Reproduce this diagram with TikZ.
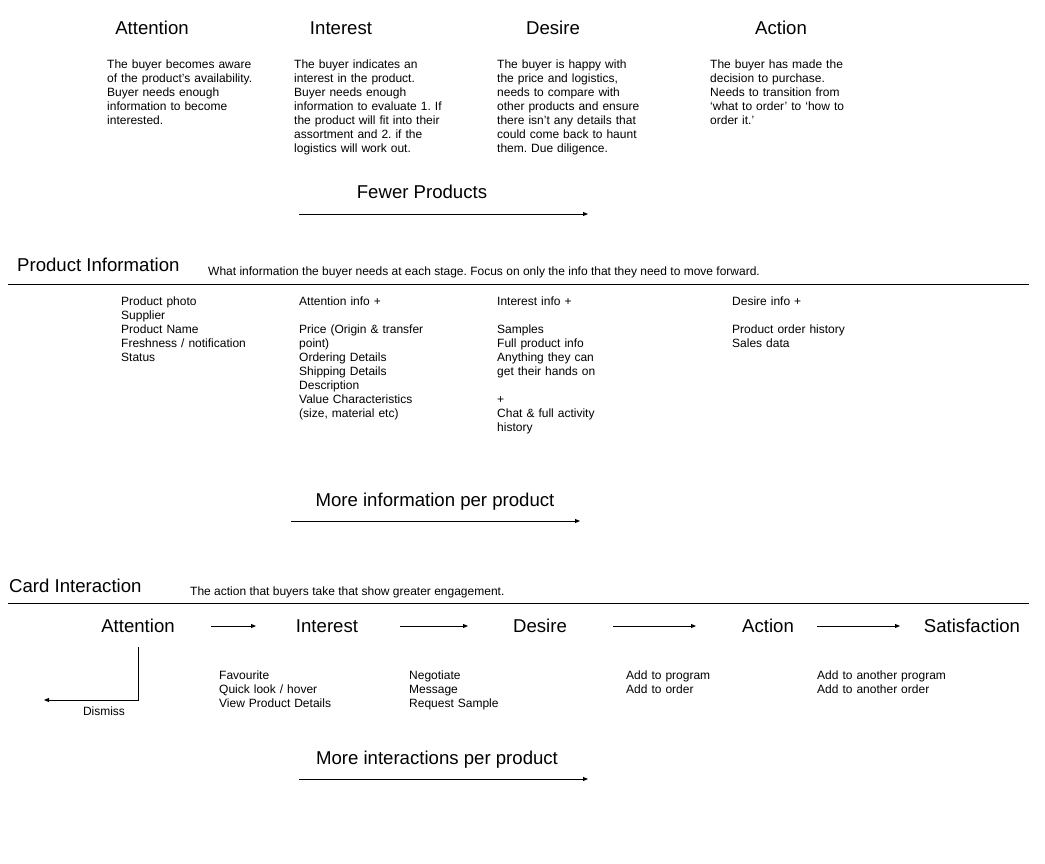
\documentclass[tikz,border=0pt]{standalone}
\usepackage{fontspec}
\setmainfont{Liberation Sans}
\usetikzlibrary{arrows.meta}
\frenchspacing
\begin{document}
\begin{tikzpicture}[x=1pt,y=-1pt,
  heading/.style={font=\fontsize{18.6}{21}\selectfont, inner sep=0pt, anchor=base},
  title/.style={font=\fontsize{18.6}{21}\selectfont, inner sep=0pt, anchor=base west},
  body/.style={font=\fontsize{12}{14}\selectfont, inner sep=0pt, anchor=base west,
    text width=260pt, align=left},
  note/.style={font=\fontsize{12}{14}\selectfont, inner sep=0pt, anchor=base west},
  flow/.style={line width=0.9pt, -{Triangle[length=5pt,width=4pt]}},
  rule/.style={line width=0.9pt}]
\useasboundingbox[fill=white] (0,0) rectangle (1045,864);

% ---------- AIDA stages ----------
\node[heading] (h-att) at (152,34.5) {Attention};
\node[heading] (h-int) at (341,34.5) {Interest};
\node[heading] (h-des) at (553,34.5) {Desire};
\node[heading] (h-act) at (781,34.5) {Action};

\node[body] (d-att) at (107,68.3) {The buyer becomes aware\\of the product’s availability.\\Buyer needs enough\\information to become\\interested.};
\node[body] (d-int) at (294,68.3) {The buyer indicates an\\interest in the product.\\Buyer needs enough\\information to evaluate 1. If\\the product will fit into their\\assortment and 2. if the\\logistics will work out.};
\node[body] (d-des) at (497,68.3) {The buyer is happy with\\the price and logistics,\\needs to compare with\\other products and ensure\\there isn’t any details that\\could come back to haunt\\them. Due diligence.};
\node[body] (d-act) at (710,68.3) {The buyer has made the\\decision to purchase.\\Needs to transition from\\‘what to order’ to ‘how to\\order it.’};

\node[heading] (fewer) at (422,198.5) {Fewer Products};
\coordinate (fewer-s) at (299,214);
\coordinate (fewer-e) at (588,214);
\draw[flow] (fewer-s) -- (fewer-e);

% ---------- Product information ----------
\node[title] (pi-title) at (17,271.5) {Product Information};
\node[note] (pi-sub) at (208,275.3) {What information the buyer needs at each stage. Focus on only the info that they need to move forward.};
\coordinate (pi-l) at (8,284);
\coordinate (pi-r) at (1029,284);
\draw[rule] (pi-l) -- (pi-r);

\node[body] (pi-att) at (121,305.3) {Product photo\\Supplier\\Product Name\\Freshness / notification\\Status};
\node[body] (pi-int) at (299,305.3) {Attention info +\\[14pt]Price (Origin \& transfer\\point)\\Ordering Details\\Shipping Details\\Description\\Value Characteristics\\(size, material etc)};
\node[body] (pi-des) at (497,305.3) {Interest info +\\[14pt]Samples\\Full product info\\Anything they can\\get their hands on\\[14pt]+\\Chat \& full activity\\history};
\node[body] (pi-act) at (732,305.3) {Desire info +\\[14pt]Product order history\\Sales data};

\node[heading] (more-info) at (435,506.5) {More information per product};
\coordinate (info-s) at (291,521);
\coordinate (info-e) at (580,521);
\draw[flow] (info-s) -- (info-e);

% ---------- Card interaction ----------
\node[title] (ci-title) at (9,592.5) {Card Interaction};
\node[note] (ci-sub) at (190,595.3) {The action that buyers take that show greater engagement.};
\coordinate (ci-l) at (8,603);
\coordinate (ci-r) at (1029,603);
\draw[rule] (ci-l) -- (ci-r);

\node[heading] (c-att) at (138,632.5) {Attention};
\node[heading] (c-int) at (327,632.5) {Interest};
\node[heading] (c-des) at (540,632.5) {Desire};
\node[heading] (c-act) at (768,632.5) {Action};
\node[heading] (c-sat) at (972,632.5) {Satisfaction};

\coordinate (a1s) at (211,626); \coordinate (a1e) at (256,626);
\coordinate (a2s) at (400,626); \coordinate (a2e) at (468,626);
\coordinate (a3s) at (613,626); \coordinate (a3e) at (696,626);
\coordinate (a4s) at (817,626); \coordinate (a4e) at (900,626);
\draw[flow] (a1s) -- (a1e);
\draw[flow] (a2s) -- (a2e);
\draw[flow] (a3s) -- (a3e);
\draw[flow] (a4s) -- (a4e);

\coordinate (dis-end) at (44,700);
\draw[flow] ([yshift=-14pt]c-att.south) |- (dis-end);
\node[heading, font=\fontsize{12}{14}\selectfont] (dismiss) at (104,715.3) {Dismiss};

\node[body] (i-int) at (219,679.3) {Favourite\\Quick look / hover\\View Product Details};
\node[body] (i-des) at (409,679.3) {Negotiate\\Message\\Request Sample};
\node[body] (i-act) at (626,679.3) {Add to program\\Add to order};
\node[body] (i-sat) at (817,679.3) {Add to another program\\Add to another order};

\node[heading] (more-int) at (437,764.5) {More interactions per product};
\coordinate (int-s) at (299,779);
\coordinate (int-e) at (588,779);
\draw[flow] (int-s) -- (int-e);
\end{tikzpicture}
\end{document}
